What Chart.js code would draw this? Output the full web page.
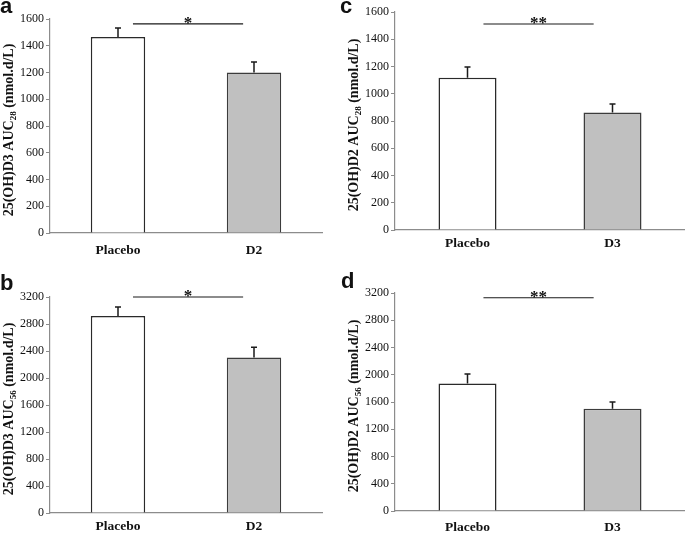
<!DOCTYPE html>
<html>
<head>
<meta charset="utf-8">
<script src="https://cdn.jsdelivr.net/npm/chart.js@4"></script>
<style>
  body { margin: 0; background: #fff; }
  #wrap { position: relative; width: 685px; height: 534px; overflow: hidden; }
  canvas { position: absolute; }
  .tag { position: absolute; font: bold 22px "Liberation Sans", Arial, sans-serif; line-height: 22px; color: #111; }
</style>
</head>
<body>
<div id="wrap">
  <canvas id="chartA" width="342" height="267" style="left:0;top:0"></canvas>
  <canvas id="chartC" width="342" height="267" style="left:343px;top:0"></canvas>
  <canvas id="chartB" width="342" height="267" style="left:0;top:267px"></canvas>
  <canvas id="chartD" width="342" height="267" style="left:343px;top:267px"></canvas>
  <div class="tag" style="left:0;top:-5px">a</div>
  <div class="tag" style="left:340px;top:-5px">c</div>
  <div class="tag" style="left:0;top:272px">b</div>
  <div class="tag" style="left:341px;top:270px">d</div>
</div>
<script>
// data
var groupsD2 = ["Placebo", "D2"];
var groupsD3 = ["Placebo", "D3"];

var aucD3day28 = [1465, 1200];
var errD3day28 = [68, 78];
var aucD3day56 = [2920, 2305];
var errD3day56 = [132, 150];
var aucD2day28 = [1118, 862];
var errD2day28 = [78, 63];
var aucD2day56 = [1870, 1500];
var errD2day56 = [140, 100];

var ticks28 = [0, 200, 400, 600, 800, 1000, 1200, 1400, 1600];
var ticks56 = [0, 400, 800, 1200, 1600, 2000, 2400, 2800, 3200];

var serif = '"Liberation Serif", "Times New Roman", serif';

// upper error bars
var errorBars = {
    id: 'errorBars',
    afterDatasetsDraw: function (chart) {
        var errs = chart.options.plugins.errorBars.errors;
        var meta = chart.getDatasetMeta(0);
        var y = chart.scales.y;
        var ctx = chart.ctx;
        ctx.save();
        ctx.strokeStyle = '#1a1a1a';
        ctx.lineWidth = 1.5;
        meta.data.forEach(function (bar, i) {
            var v = chart.data.datasets[0].data[i];
            var top = y.getPixelForValue(v + errs[i]);
            ctx.beginPath();
            ctx.moveTo(bar.x, bar.y);
            ctx.lineTo(bar.x, top);
            ctx.moveTo(bar.x - 3, top);
            ctx.lineTo(bar.x + 3, top);
            ctx.stroke();
        });
        ctx.restore();
    }
};

// significance bar + stars, and the y title with subscript
var annotations = {
    id: 'annotations',
    afterDraw: function (chart) {
        var o = chart.options.plugins.annotations;
        var ctx = chart.ctx;
        var x = chart.scales.x, y = chart.scales.y;
        var x1 = x.getPixelForValue(o.sigFrom), x2 = x.getPixelForValue(o.sigTo);
        var ly = y.getPixelForValue(o.sigAt);
        ctx.save();
        ctx.strokeStyle = '#1a1a1a';
        ctx.lineWidth = 1.2;
        ctx.beginPath();
        ctx.moveTo(x1, ly);
        ctx.lineTo(x2, ly);
        ctx.stroke();
        ctx.fillStyle = '#111';
        ctx.font = 'bold 17px ' + serif;
        ctx.textAlign = 'center';
        ctx.textBaseline = 'alphabetic';
        ctx.fillText(o.stars, (x1 + x2) / 2, ly + 4);
        ctx.restore();

        // rotated title
        var area = chart.chartArea;
        var main = o.title[0], sub = o.title[1], rest = o.title[2];
        ctx.save();
        ctx.translate(area.left - 37, (area.top + area.bottom) / 2 + 4);
        ctx.rotate(-Math.PI / 2);
        ctx.fillStyle = '#111';
        ctx.textBaseline = 'alphabetic';
        ctx.textAlign = 'left';
        var big = 'bold 14px ' + serif, small = 'bold 9px ' + serif;
        ctx.font = big;
        var w1 = ctx.measureText(main).width, w3 = ctx.measureText(rest).width;
        ctx.font = small;
        var w2 = ctx.measureText(sub).width;
        var sx = -(w1 + w2 + w3) / 2;
        ctx.font = big;
        ctx.fillText(main, sx, 0);
        ctx.font = small;
        ctx.fillText(sub, sx + w1, 3);
        ctx.font = big;
        ctx.fillText(rest, sx + w1 + w2, 0);
        ctx.restore();
    }
};

function makePanel(id, groups, values, errors, tickVals, box, extra) {
    var w = 342, h = 267;
    new Chart(document.getElementById(id).getContext('2d'), {
        type: 'bar',
        data: {
            labels: groups,
            datasets: [{
                data: values,
                backgroundColor: ['#ffffff', '#c0c0c0'],
                borderColor: ['#2a2a2a', '#3c3c3c'],
                borderWidth: 1.5,
                barPercentage: 0.4,
                categoryPercentage: 1
            }]
        },
        options: {
            responsive: false,
            animation: false,
            layout: { padding: { top: box.top, right: w - box.right, left: 0, bottom: 0 } },
            plugins: {
                legend: { display: false },
                tooltip: { enabled: false },
                errorBars: { errors: errors },
                annotations: extra
            },
            scales: {
                x: {
                    grid: { drawOnChartArea: false, drawTicks: false },
                    border: { color: '#8c8c8c', width: 1.2 },
                    ticks: { color: '#111', padding: box.labelPad, font: { family: serif, size: 13.5, weight: 'bold' } },
                    afterFit: function (s) { s.height = h - box.bottom; }
                },
                y: {
                    min: 0,
                    max: tickVals[tickVals.length - 1],
                    afterBuildTicks: function (s) { s.ticks = tickVals.map(function (v) { return { value: v }; }); },
                    grid: { drawOnChartArea: false, tickLength: 4, color: '#8c8c8c' },
                    border: { color: '#8c8c8c', width: 1.2 },
                    ticks: {
                        color: '#111', padding: 2, font: { family: serif, size: 12 },
                        callback: function (v) { return String(v); }
                    },
                    afterFit: function (s) { s.width = box.left; }
                }
            }
        },
        plugins: [errorBars, annotations]
    });
}

makePanel('chartA', groupsD2, aucD3day28, errD3day28, ticks28,
    { left: 50, top: 19, right: 322, bottom: 233, labelPad: 9 },
    { sigFrom: 0.11, sigTo: 0.92, sigAt: 1563, stars: '*', title: ['25(OH)D3 AUC', '28', ' (nmol.d/L)'] });
makePanel('chartC', groupsD3, aucD2day28, errD2day28, ticks28,
    { left: 52, top: 12, right: 342, bottom: 230, labelPad: 5 },
    { sigFrom: 0.11, sigTo: 0.87, sigAt: 1512, stars: '**', title: ['25(OH)D2 AUC', '28', ' (nmol.d/L)'] });
makePanel('chartB', groupsD2, aucD3day56, errD3day56, ticks56,
    { left: 50, top: 30, right: 322, bottom: 246, labelPad: 5 },
    { sigFrom: 0.11, sigTo: 0.92, sigAt: 3200, stars: '*', title: ['25(OH)D3 AUC', '56', ' (nmol.d/L)'] });
makePanel('chartD', groupsD3, aucD2day56, errD2day56, ticks56,
    { left: 52, top: 26, right: 342, bottom: 244, labelPad: 8 },
    { sigFrom: 0.11, sigTo: 0.87, sigAt: 3130, stars: '**', title: ['25(OH)D2 AUC', '56', ' (nmol.d/L)'] });
</script>
</body>
</html>
